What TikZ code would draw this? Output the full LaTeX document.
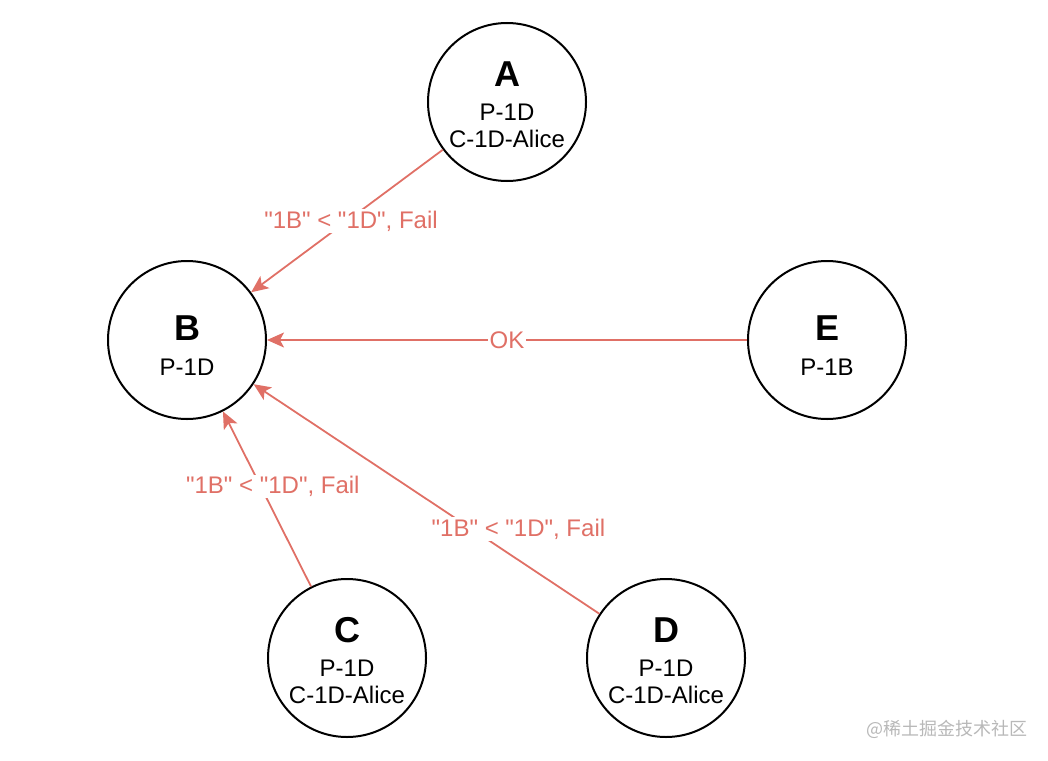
\documentclass[tikz,border=0pt]{standalone}
\usepackage{fontspec}
\setmainfont{Liberation Sans}
\newfontfamily\cjkfont{Noto Sans CJK SC}
\usetikzlibrary{arrows.meta}
\definecolor{EdgeClr}{HTML}{E07066}
\definecolor{MarkClr}{HTML}{B8B8B8}
\newcommand\PeerName[2]{{\fontsize{36}{36}\selectfont\bfseries\rule{0pt}{#1}#2}}
\newcommand\qq[1]{\textquotedbl#1\textquotedbl}

\begin{document}
\begin{tikzpicture}[x=1pt,y=-1pt,
  peer/.style={circle,draw=black,line width=2pt,minimum size=158pt,inner sep=0pt,
    align=center,font=\fontsize{24}{27}\selectfont},
  vote/.style={draw=EdgeClr,line width=1.8pt,-{Stealth[length=17pt,width=15pt,inset=4pt]}},
  why/.style={fill=white,text=EdgeClr,font=\fontsize{24}{27}\selectfont,inner sep=1.5pt}]
\useasboundingbox (0,0) rectangle (1048,760);

\node[peer] (A) at (507,102) {\PeerName{30pt}{A}\\[7.5pt]P-1D\\C-1D-Alice};
\node[peer] (B) at (187,340) {\PeerName{36pt}{B}\\[8.5pt]P-1D};
\node[peer] (E) at (827,340) {\PeerName{36pt}{E}\\[8.5pt]P-1B};
\node[peer] (C) at (347,658) {\PeerName{30pt}{C}\\[7.5pt]P-1D\\C-1D-Alice};
\node[peer] (D) at (666,658) {\PeerName{30pt}{D}\\[7.5pt]P-1D\\C-1D-Alice};

% votes towards B
\draw[vote] (A) -- node[why,pos=.5,xshift=4pt] {\qq{1B} < \qq{1D}, Fail} (B);
\draw[vote] (E) -- node[why,pos=.5] {OK} (B);
\draw[vote] (C) -- node[why,pos=.57,xshift=12pt] {\qq{1B} < \qq{1D}, Fail} (B);
\draw[vote] (D) -- node[why,pos=.37,xshift=47pt] {\qq{1B} < \qq{1D}, Fail} (B);

\node[text=MarkClr,font=\cjkfont\fontsize{18}{20}\selectfont] (mark) at (947,729) {@稀土掘金技术社区};

\end{tikzpicture}
\end{document}
